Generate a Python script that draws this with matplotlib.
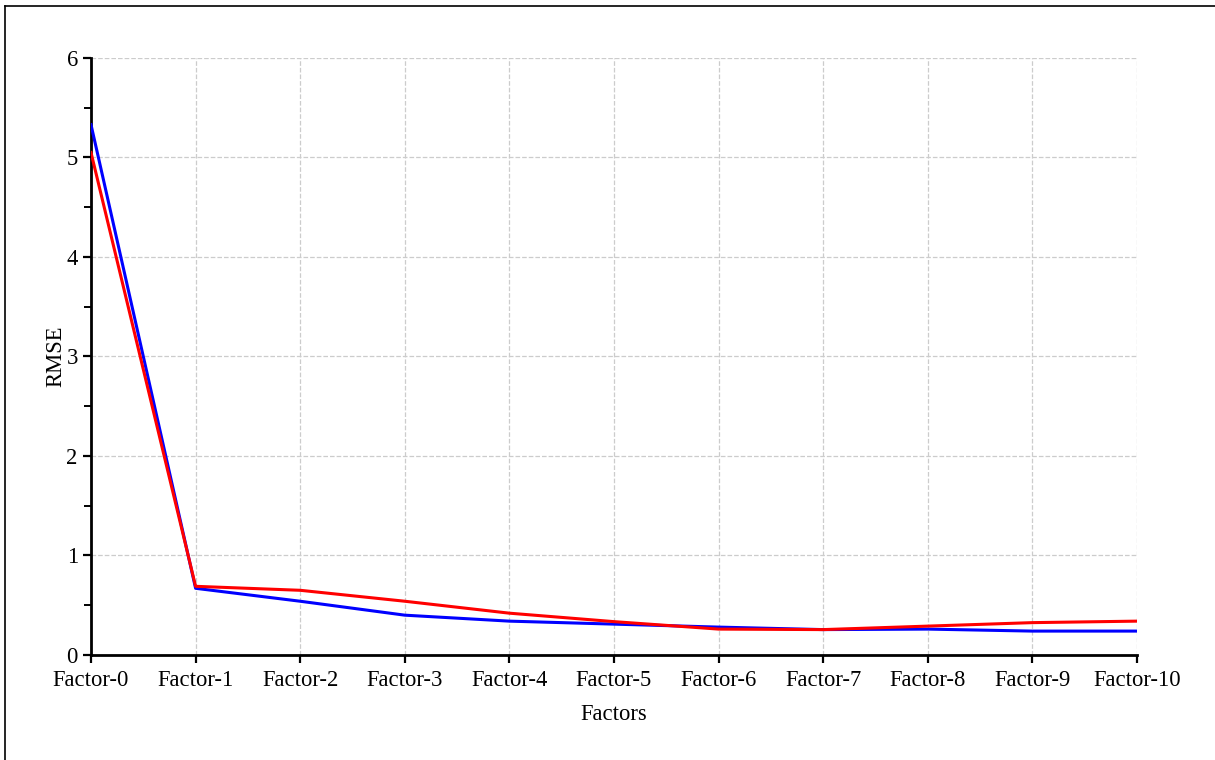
import matplotlib.pyplot as plt
from matplotlib.lines import Line2D
from matplotlib.ticker import MultipleLocator

# --- DATA ---
factors = ['Factor-0', 'Factor-1', 'Factor-2', 'Factor-3', 'Factor-4', 'Factor-5',
           'Factor-6', 'Factor-7', 'Factor-8', 'Factor-9', 'Factor-10']
rmse_blue = [5.33, 0.67, 0.54, 0.40, 0.34, 0.31, 0.28, 0.255, 0.26, 0.24, 0.24]
rmse_red = [5.05, 0.69, 0.65, 0.54, 0.42, 0.335, 0.26, 0.255, 0.29, 0.325, 0.34]

plt.rcParams['font.family'] = ['Liberation Serif', 'DejaVu Serif']

fig = plt.figure(figsize=(12.15, 7.6), dpi=100)
ax = fig.add_axes([0.0749, 0.1382, 0.8609, 0.7855])

x = range(len(factors))
ax.plot(x, rmse_blue, color='#0000ff', linewidth=2.2, zorder=3)
ax.plot(x, rmse_red, color='#ff0000', linewidth=2.2, zorder=4)

ax.set_xlim(0, len(factors) - 1)
ax.set_ylim(0, 6)
ax.set_xticks(list(x))
ax.set_xticklabels(factors)
ax.yaxis.set_minor_locator(MultipleLocator(0.5))

ax.grid(True, linestyle='--', color='#cccccc', linewidth=0.9)
ax.set_axisbelow(True)

for side in ['top', 'right']:
    ax.spines[side].set_visible(False)
for side in ['left', 'bottom']:
    ax.spines[side].set_linewidth(2)

ax.tick_params(axis='both', which='major', direction='out', length=6, width=1.6, labelsize=16.3)
ax.tick_params(axis='x', which='major', pad=5)
ax.tick_params(axis='y', which='minor', direction='out', length=5, width=1.4)

ax.set_xlabel('Factors', fontsize=16.3, labelpad=9)
ax.set_ylabel('RMSE', fontsize=16.3, labelpad=0)

# frame lines at top and left of the figure
fig.add_artist(Line2D([0.004, 1.0], [0.992, 0.992], color='black', linewidth=1.2, transform=fig.transFigure))
fig.add_artist(Line2D([0.004, 0.004], [0.0, 0.992], color='black', linewidth=1.2, transform=fig.transFigure))

plt.savefig('out.png', dpi=100)
